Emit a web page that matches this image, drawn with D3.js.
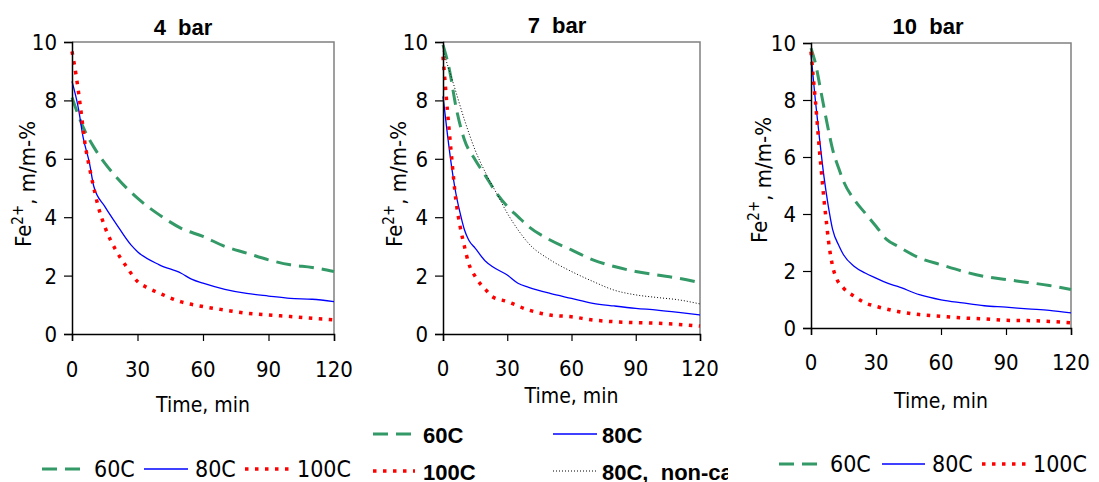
<!DOCTYPE html>
<html>
<head>
<meta charset="utf-8">
<script src="https://cdn.jsdelivr.net/npm/d3@7"></script>
<style>
  body { margin: 0; background: #fff; }
  svg { display: block; }
  text { font-family: "DejaVu Sans Condensed", "DejaVu Sans", sans-serif; font-stretch: condensed; fill: #000; }
  text.bold { font-family: "Liberation Sans", Arial, sans-serif; font-stretch: normal; font-weight: bold; }
</style>
</head>
<body>
<svg id="chart" width="1099" height="482"></svg>
<script>
// --- Data (time in min, Fe2+ in m/m-%) ---
const timeTicks = [0, 30, 60, 90, 120];
const feTicks = [0, 2, 4, 6, 8, 10];
const seriesNames = ["60C", "80C", "100C", "80C,  non-cat"];

const bar4_60C = [[0,8.1],[5,7.1],[10,6.4],[15,5.85],[20,5.4],[30,4.65],[40,4.08],[50,3.62],[60,3.34],[70,3.0],[80,2.77],[90,2.54],[100,2.37],[110,2.28],[120,2.14]];
const bar4_80C = [[0,8.65],[3,7.7],[5,6.77],[8,5.85],[10,5.05],[15,4.37],[20,3.8],[27,3.05],[30,2.82],[40,2.37],[50,2.08],[55,1.87],[60,1.74],[70,1.53],[80,1.39],[90,1.3],[100,1.22],[110,1.19],[120,1.11]];
const bar4_100C = [[0,9.68],[2,8.8],[4,7.7],[6,6.5],[8,5.7],[10,5.0],[12,4.37],[15,3.68],[20,2.88],[25,2.3],[30,1.8],[35,1.57],[40,1.4],[50,1.1],[60,0.94],[70,0.82],[80,0.71],[90,0.65],[100,0.6],[110,0.54],[120,0.48]];

const bar7_60C = [[0,9.9],[3,9.05],[6,7.8],[10,6.65],[15,5.97],[20,5.4],[25,4.82],[30,4.37],[35,4.02],[40,3.68],[50,3.22],[60,2.88],[70,2.54],[80,2.31],[90,2.14],[100,2.02],[110,1.91],[120,1.76]];
const bar7_80C = [[0,8.14],[2,6.88],[4,5.74],[6,4.82],[8,4.14],[10,3.57],[12,3.22],[15,2.94],[20,2.48],[23,2.31],[30,2.02],[35,1.74],[40,1.6],[50,1.39],[60,1.22],[70,1.05],[80,0.96],[90,0.88],[100,0.82],[110,0.74],[120,0.65]];
const bar7_100C = [[0,9.5],[1,8.6],[2,7.7],[3,6.88],[4,6.08],[5,5.28],[6,4.6],[8,3.68],[10,3.0],[12,2.42],[15,1.97],[20,1.51],[23,1.28],[30,1.11],[40,0.82],[50,0.65],[60,0.59],[70,0.48],[80,0.42],[90,0.39],[100,0.37],[110,0.33],[120,0.27]];
const bar7_80Cnoncat = [[0,9.7],[5,8.54],[10,7.34],[15,6.3],[20,5.5],[25,4.82],[30,4.14],[35,3.57],[40,3.1],[50,2.54],[60,2.14],[70,1.8],[80,1.5],[90,1.34],[100,1.25],[110,1.17],[120,1.03]];

const bar10_60C = [[0,9.82],[2,9.3],[5,8.13],[8,6.96],[10,6.26],[13,5.56],[15,5.15],[20,4.5],[25,4.03],[30,3.57],[35,3.1],[40,2.87],[50,2.46],[60,2.22],[70,1.99],[80,1.81],[90,1.7],[100,1.6],[110,1.49],[120,1.35]];
const bar10_80C = [[0,9.59],[2,8.0],[4,6.6],[6,5.3],[8,4.27],[10,3.45],[13,2.87],[15,2.57],[20,2.16],[25,1.93],[30,1.75],[35,1.58],[40,1.46],[50,1.17],[60,0.99],[70,0.88],[80,0.78],[90,0.73],[100,0.67],[110,0.62],[120,0.53]];
const bar10_100C = [[0,9.7],[1,8.83],[2,8.0],[3,7.08],[4,6.14],[5,5.32],[6,4.5],[7,3.8],[8,3.1],[10,2.16],[12,1.7],[15,1.4],[20,1.11],[25,0.88],[30,0.76],[40,0.58],[50,0.47],[60,0.41],[70,0.35],[80,0.32],[90,0.27],[100,0.26],[110,0.23],[120,0.18]];

// --- Styles per series ---
const styles = {
  "60C": { stroke: "#339966", width: 3, dash: "15,8" },
  "80C": { stroke: "#0000ff", width: 1.3, dash: null },
  "100C": { stroke: "#ff0000", width: 3.5, dash: "3.5,6.5" },
  "80C,  non-cat": { stroke: "#000", width: 1, dash: "1,2" }
};

// --- Panel layout ---
const panels = [
  { title: "4  bar", x0: 72, x1: 334, y0: 334, y1: 42, titleX: 183, titleY: 35, titleClip: null,
    ylabX: 31, ylabY: 184, tickLabY: 377, xlabY: 412,
    series: [["60C", bar4_60C], ["80C", bar4_80C], ["100C", bar4_100C]] },
  { title: "7  bar", x0: 443, x1: 700, y0: 334, y1: 42, titleX: 557, titleY: 33, titleClip: 587,
    ylabX: 402, ylabY: 184, tickLabY: 376, xlabY: 403,
    series: [["60C", bar7_60C], ["80C", bar7_80C], ["100C", bar7_100C], ["80C,  non-cat", bar7_80Cnoncat]] },
  { title: "10  bar", x0: 811, x1: 1071, y0: 328, y1: 43, titleX: 928, titleY: 34, titleClip: 964,
    ylabX: 767, ylabY: 180, tickLabY: 370, xlabY: 408,
    series: [["60C", bar10_60C], ["80C", bar10_80C], ["100C", bar10_100C]] }
];

const svg = d3.select("#chart");
const defs = svg.append("defs");

panels.forEach((p, pi) => {
  const x = d3.scaleLinear().domain([0, 120]).range([p.x0, p.x1]);
  const y = d3.scaleLinear().domain([0, 10]).range([p.y0, p.y1]);
  const g = svg.append("g");

  // plot frame (top/right in gray)
  g.append("path")
    .attr("d", `M${p.x0},${p.y1}H${p.x1}V${p.y0}`)
    .attr("fill", "none").attr("stroke", "#808080").attr("stroke-width", 1.5);

  // lines
  const line = d3.line().x(d => x(d[0])).y(d => y(d[1])).curve(d3.curveMonotoneX);
  p.series.forEach(([name, data]) => {
    const s = styles[name];
    g.append("path")
      .datum(data)
      .attr("d", line)
      .attr("fill", "none")
      .attr("stroke", s.stroke)
      .attr("stroke-width", s.width)
      .attr("stroke-dasharray", s.dash);
  });

  // axes
  const xAxis = d3.axisBottom(x).tickValues(timeTicks).tickSize(7).tickFormat("");
  const yAxis = d3.axisLeft(y).tickValues(feTicks).tickSize(8).tickFormat("");
  const gx = g.append("g").attr("transform", `translate(0,${p.y0})`).call(xAxis);
  const gy = g.append("g").attr("transform", `translate(${p.x0},0)`).call(yAxis);
  [gx, gy].forEach(a => {
    a.select(".domain").attr("stroke", "#000").attr("stroke-width", 1.5);
    a.selectAll(".tick line").attr("stroke", "#000").attr("stroke-width", 1.2);
  });

  // tick labels
  g.selectAll(".xl").data(timeTicks).enter().append("text")
    .attr("x", d => x(d)).attr("y", p.tickLabY)
    .attr("text-anchor", "middle").style("font-size", "22px")
    .text(d => d);
  g.selectAll(".yl").data(feTicks).enter().append("text")
    .attr("x", p.x0 - 15).attr("y", d => y(d)).attr("dy", "0.36em")
    .attr("text-anchor", "end").style("font-size", "22px")
    .text(d => d);

  // axis titles
  g.append("text")
    .attr("x", (p.x0 + p.x1) / 2).attr("y", p.xlabY)
    .attr("text-anchor", "middle").style("font-size", "21px")
    .text("Time, min");
  const yl = g.append("text")
    .attr("transform", `translate(${p.ylabX},${p.ylabY}) rotate(-90)`)
    .attr("text-anchor", "middle").style("font-size", "22px");
  yl.append("tspan").text("Fe");
  yl.append("tspan").attr("dy", "-0.55em").style("font-size", "15px").text("2+");
  yl.append("tspan").attr("dy", "0.55em").text(", m/m-%");

  // title
  const t = g.append("text").attr("class", "bold")
    .attr("x", p.titleX).attr("y", p.titleY)
    .attr("text-anchor", "middle")
    .style("font-size", "22px")
    .style("white-space", "pre")
    .text(p.title);
  if (p.titleClip) {
    defs.append("clipPath").attr("id", "tclip" + pi)
      .append("rect").attr("x", p.titleX - 80).attr("y", 0)
      .attr("width", p.titleClip - (p.titleX - 80)).attr("height", 45);
    t.attr("clip-path", `url(#tclip${pi})`);
  }
});

// --- Legends ---
function legendItem(g, name, lx0, lx1, ly, tx, ty, size, bold) {
  const s = styles[name];
  g.append("line")
    .attr("x1", lx0).attr("x2", lx1).attr("y1", ly).attr("y2", ly)
    .attr("stroke", s.stroke).attr("stroke-width", s.width)
    .attr("stroke-dasharray", s.dash);
  g.append("text")
    .attr("class", bold ? "bold" : null)
    .attr("x", tx).attr("y", ty)
    .style("font-size", size + "px")
    .style("white-space", "pre")
    .text(name);
}

const leg1 = svg.append("g");
legendItem(leg1, seriesNames[0], 42, 86, 469, 94, 477, 23, false);
legendItem(leg1, seriesNames[1], 144, 188, 469, 195, 477, 23, false);
legendItem(leg1, seriesNames[2], 245, 290, 469, 297, 477, 23, false);

// the middle legend is cut at the panel edge, as in the original figure
defs.append("clipPath").attr("id", "leg2clip")
  .append("rect").attr("x", 365).attr("y", 410).attr("width", 363).attr("height", 72);
const leg2 = svg.append("g").attr("clip-path", "url(#leg2clip)");
legendItem(leg2, seriesNames[0], 373, 415, 434, 423, 443, 22, true);
legendItem(leg2, seriesNames[1], 553, 597, 434, 602, 443, 22, true);
legendItem(leg2, seriesNames[2], 373, 415, 471, 423, 480, 22, true);
legendItem(leg2, seriesNames[3], 553, 597, 471, 602, 480, 22, true);

const leg3 = svg.append("g");
legendItem(leg3, seriesNames[0], 779, 822, 464, 830, 472, 23, false);
legendItem(leg3, seriesNames[1], 882, 925, 464, 932, 472, 23, false);
legendItem(leg3, seriesNames[2], 982, 1028, 464, 1033, 472, 23, false);
</script>
</body>
</html>
